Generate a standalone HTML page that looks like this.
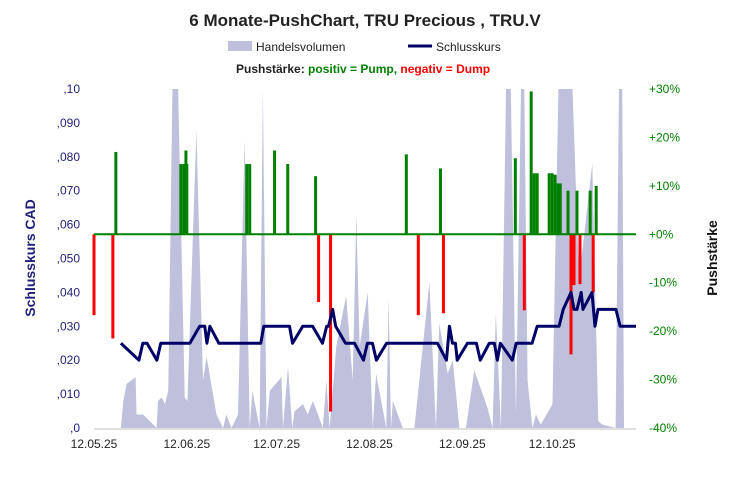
<!DOCTYPE html>
<html><head><meta charset="utf-8"><style>
body{margin:0;background:#fff;}
svg{display:block;font-family:"Liberation Sans",Arial,sans-serif;}
</style></head><body>
<svg id="chart" width="734" height="480" viewBox="0 0 734 480">
<text x="365" y="26" text-anchor="middle" font-size="17" font-weight="bold" fill="#222">6 Monate-PushChart,  TRU Precious , TRU.V</text>
<g>
<rect x="228" y="41" width="24" height="10" fill="#bfc0dc"/>
<text x="256" y="51" font-size="12" fill="#222">Handelsvolumen</text>
<line x1="408" y1="46" x2="432" y2="46" stroke="#000066" stroke-width="3"/>
<text x="436" y="51" font-size="12" fill="#222">Schlusskurs</text>
<text x="236" y="73" font-size="12" font-weight="bold"><tspan fill="#222">Pushstärke:  </tspan><tspan fill="#008000">positiv = Pump,  </tspan><tspan fill="#ff0000">negativ = Dump</tspan></text>
</g>
<text transform="translate(35,258) rotate(-90)" text-anchor="middle" font-size="14" font-weight="bold" fill="#1f1f7a">Schlusskurs CAD</text>
<text transform="translate(717,258) rotate(-90)" text-anchor="middle" font-size="14" font-weight="bold" fill="#111">Pushstärke</text>
<g id="plot"></g>
</svg>
<script>
const priceTicks=[",0",",010",",020",",030",",040",",050",",060",",070",",080",",090",",10"];
const pushTicks=["-40%","-30%","-20%","-10%","+0%","+10%","+20%","+30%"];
const xTickLabels=["12.05.25","12.06.25","12.07.25","12.08.25","12.09.25","12.10.25"];
const xTickDays=[0,31,61,92,123,153];
const volDays=[9,9.8,10.9,13.9,14.2,16.4,20.9,21.4,22.6,23.7,24.8,26.2,28.1,30.3,31.2,34.2,36.4,37.6,40.9,43.1,44.2,45.9,48.1,50.3,52,52.9,55.3,56.4,57.6,58.7,62.6,63.1,64.8,66.2,67,69.8,71.4,73.1,74.8,76.4,77.6,78.7,80.9,84.2,86.4,87.6,88.7,91.4,93.1,94.2,97.6,98.4,99.2,99.8,103.1,107,112,114.2,115.3,118.1,119.8,122,124.2,127,131.4,133.1,134.2,135.9,137.6,139.2,140.9,142.6,143.7,144.8,146.4,147.6,149.2,153.1,155.1,159.8,162,166.4,168.4,169.8,174.2,175.3,176.4,177,180.9];
const volValues=[0,8,13,15,4,4,0,8,9,7,11,110,110,9,8,88,14,21,4,0,4,0,4,85,0,11,0,110,0,11,15,0,18,0,5,7,4,8,4,0,14,0,24,39,14,63,24,40,0,16,0,38,0,8,0,0,43,0,31,16,20,0,0,17,6,0,34,0,110,110,4,110,110,14,0,4,1,7,110,110,44,78,2,1,0,110,110,0,0];
const priceDays=[9,15,16.3,17.7,21,22.3,32,35.3,37,37.7,38.7,41.7,55.7,56.7,65.3,66.3,69.7,73,76.3,77.7,78.3,79.7,80.7,84,87,90,91.3,93,94.3,97.7,114.7,117.7,118.7,119.7,120.7,121.3,124.7,127.7,129,132,133.7,134.7,135.7,139.7,141,146.3,148,155.3,156.7,159.3,160.3,161.3,162.7,163.3,166.3,167.3,168.3,174.3,175.7,181];
const priceValues=[0.025,0.02,0.025,0.025,0.02,0.025,0.025,0.03,0.03,0.025,0.03,0.025,0.025,0.03,0.03,0.025,0.03,0.03,0.025,0.03,0.03,0.035,0.03,0.025,0.025,0.02,0.025,0.025,0.02,0.025,0.025,0.02,0.03,0.025,0.025,0.02,0.025,0.025,0.02,0.025,0.025,0.02,0.025,0.02,0.025,0.025,0.03,0.03,0.035,0.04,0.035,0.035,0.04,0.035,0.04,0.03,0.035,0.035,0.03,0.03];
const pushDays=[0,6.3,7.3,29,30,31,30.7,51,52,60.3,64.7,74,75,79,104.3,108.3,115.7,116.7,140.7,143.7,146,147,148,152,153,154,155,155.7,158.3,159.3,160.3,161.3,162.3,165.7,166.7,167.7];
const pushValues=[-16.7,-21.5,17,14.5,14.5,14.5,17.3,14.5,14.5,17.3,14.5,12,-14,-36.6,16.5,-16.7,13.6,-16.3,15.7,-15.7,29.5,12.6,12.6,12.6,12.6,12.3,10.5,10.5,9,-24.8,-10.5,9,-10.3,9,-12,10];

const X0=94,X1=636,YT=89,YB=428,NS='http://www.w3.org/2000/svg';
const xs=d=>X0+d*(X1-X0)/181;
const yPrice=v=>YB-v/0.1*(YB-YT);
const yPush=p=>YB-(p+40)/70*(YB-YT);
const yVol=v=>YB-Math.min(v,100)/100*(YB-YT);
const plot=document.getElementById('plot');
function mk(t,a){const e=document.createElementNS(NS,t);for(const k in a)e.setAttribute(k,a[k]);plot.appendChild(e);return e;}

let pts=[[xs(volDays[0]),YB]];
volDays.forEach((d,i)=>pts.push([xs(d),yVol(volValues[i])]));
pts.push([xs(volDays[volDays.length-1]),YB]);
const va=mk('polygon',{points:pts.map(p=>p.join(',')).join(' '),fill:'#bfc0dc'});



const bl=mk('line',{x1:X0,y1:YB+1,x2:X1,y2:YB+1,stroke:'#bfbfbf','stroke-width':1});



pushDays.forEach((d,i)=>{const v=pushValues[i];const y0=yPush(0),y1=yPush(v);
const r=mk('rect',{x:xs(d)-1.5,y:Math.min(y0,y1),width:3,height:Math.abs(y1-y0),fill:v>=0?'#008000':'#ff0000'});

});

const zl=mk('line',{x1:X0,y1:yPush(0),x2:X1,y2:yPush(0),stroke:'#008000','stroke-width':2});



const pl=mk('polyline',{points:priceDays.map((d,i)=>xs(d)+','+yPrice(priceValues[i])).join(' '),fill:'none',stroke:'#000066','stroke-width':3,'stroke-linejoin':'round'});



priceTicks.forEach((t,i)=>{const e=mk('text',{x:80,y:yPrice(i*0.01)+4,'text-anchor':'end','font-size':12,fill:'#1f1f7a'});e.textContent=t;

});
pushTicks.forEach((t,i)=>{const e=mk('text',{x:649,y:yPush(-40+i*10)+4,'font-size':12,fill:'#008000'});e.textContent=t;

});
xTickLabels.forEach((t,i)=>{const e=mk('text',{x:xs(xTickDays[i]),y:448,'text-anchor':'middle','font-size':12,fill:'#222'});e.textContent=t;

});
</script>
</body></html>
